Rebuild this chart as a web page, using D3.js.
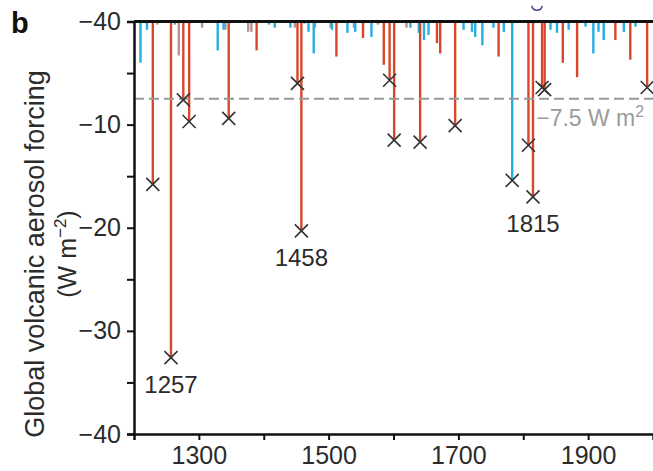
<!DOCTYPE html>
<html>
<head>
<meta charset="utf-8">
<script src="https://cdn.jsdelivr.net/npm/d3@7"></script>
<style>
  body { margin: 0; background: #fff; }
  svg { display: block; font-family: "Liberation Sans", Arial, sans-serif; }
</style>
</head>
<body>
<script>
// eruption forcing (year, W m-2)
var redYears   = [1229, 1257, 1276, 1285, 1346, 1389, 1452, 1458, 1512, 1553, 1585, 1594, 1601, 1641, 1667, 1672, 1695, 1762, 1808, 1815, 1829, 1833, 1861, 1883, 1942, 1965, 1991];
var redValues  = [-15.8, -32.6, -7.6, -9.7, -9.4, -2.8, -6.0, -20.3, -3.4, -1.6, -4.2, -5.7, -11.5, -11.7, -2.1, -3.1, -10.1, -3.4, -12.0, -17.0, -6.4, -6.6, -4.0, -5.4, -1.8, -3.7, -6.4];
var blueYears  = [1210, 1220, 1263, 1329, 1338, 1408, 1417, 1441, 1463, 1469, 1477, 1505, 1529, 1541, 1566, 1626, 1639, 1647, 1654, 1708, 1721, 1726, 1737, 1754, 1770, 1783, 1842, 1852, 1870, 1896, 1908, 1916, 1924, 1955, 1973];
var blueValues = [-4.0, -0.8, -0.3, -2.8, -0.8, -0.3, -0.6, -0.6, -0.2, -1.0, -3.1, -0.8, -1.1, -1.0, -1.5, -0.6, -1.1, -1.8, -1.3, -0.8, -1.0, -1.5, -2.3, -0.6, -1.0, -15.4, -0.8, -1.1, -0.8, -0.5, -3.1, -1.0, -1.8, -1.0, -0.5];
var greyYears  = [1236, 1269, 1305, 1341, 1376, 1381, 1448, 1479, 1503, 1539, 1576, 1620];
var greyValues = [-0.3, -3.3, -0.6, -0.8, -1.0, -1.0, -0.6, -0.6, -0.6, -0.6, -0.3, -0.6];

// eruptions with a cross, and the ones with a year label
var markedYears = [1229, 1257, 1276, 1285, 1346, 1452, 1458, 1594, 1601, 1641, 1695, 1783, 1808, 1815, 1829, 1833, 1991];
var labelYears  = [1257, 1458, 1815];

var yTicks = [0, -5, -10, -15, -20, -25, -30, -35, -40];
var yTickLabels = {"0": "\u221240", "-10": "\u221210", "-20": "\u221220", "-30": "\u221230", "-40": "\u221240"};
var xTicks = [1300, 1400, 1500, 1600, 1700, 1800, 1900];
var threshold = -7.5;

var W = 653, H = 471;
var margin = {top: 21.5, left: 134, right: 0, bottom: 37};
var width = W - margin.left - margin.right,
    height = H - margin.top - margin.bottom;

var svg = d3.select("body").append("svg")
    .attr("width", W)
    .attr("height", H);

var x = d3.scaleLinear().domain([1200, 2000]).range([0, width]);
var y = d3.scaleLinear().domain([0, -40]).range([0, height]);

var g = svg.append("g")
    .attr("transform", "translate(" + margin.left + "," + margin.top + ")");

// bars
function pairs(years, values, type) {
  return years.map(function(yr, i) { return {year: yr, value: values[i], type: type}; });
}
var bars = pairs(greyYears, greyValues, "grey")
  .concat(pairs(blueYears, blueValues, "blue"))
  .concat(pairs(redYears, redValues, "red"));
var colors = {red: "#d8472c", blue: "#27aee2", grey: "#b69292"};

g.selectAll(".bar")
    .data(bars)
  .enter().append("line")
    .attr("class", "bar")
    .attr("x1", function(d) { return x(d.year); })
    .attr("x2", function(d) { return x(d.year); })
    .attr("y1", y(0))
    .attr("y2", function(d) { return y(d.value); })
    .attr("stroke", function(d) { return colors[d.type]; })
    .attr("stroke-width", 2.4);

// -7.5 threshold
g.append("line")
    .attr("x1", 0).attr("x2", width)
    .attr("y1", y(threshold)).attr("y2", y(threshold))
    .attr("stroke", "#999")
    .attr("stroke-width", 2)
    .attr("stroke-dasharray", "10,5");

var thr = g.append("text")
    .attr("x", x(1820))
    .attr("y", y(threshold) + 27)
    .attr("fill", "#9b9b9b")
    .style("font-size", "23px")
    .text("\u22127.5 W m");
thr.append("tspan")
    .attr("dy", -9)
    .style("font-size", "16px")
    .text("2");

// crosses
var marks = bars.filter(function(d) { return markedYears.indexOf(d.year) >= 0; });
g.selectAll(".mark")
    .data(marks)
  .enter().append("path")
    .attr("class", "mark")
    .attr("transform", function(d) { return "translate(" + x(d.year) + "," + y(d.value) + ")"; })
    .attr("d", "M-6.5,-6.5L6.5,6.5M-6.5,6.5L6.5,-6.5")
    .attr("stroke", "#333")
    .attr("stroke-width", 1.6)
    .attr("fill", "none");

g.selectAll(".yearlabel")
    .data(marks.filter(function(d) { return labelYears.indexOf(d.year) >= 0; }))
  .enter().append("text")
    .attr("class", "yearlabel")
    .attr("x", function(d) { return x(d.year); })
    .attr("y", function(d) { return y(d.value) + 35; })
    .attr("text-anchor", "middle")
    .attr("fill", "#2b2b2b")
    .style("font-size", "24px")
    .text(function(d) { return d.year; });

// top zero line
g.append("line")
    .attr("x1", 0).attr("x2", width)
    .attr("y1", 0).attr("y2", 0)
    .attr("stroke", "#111")
    .attr("stroke-width", 3);

// axes
var yAxis = g.append("g")
    .call(d3.axisLeft(y).tickValues(yTicks).tickSize(7).tickPadding(6)
      .tickFormat(function(d) { return yTickLabels[String(d)] || ""; }));

var xAxis = g.append("g")
    .attr("transform", "translate(0," + height + ")")
    .call(d3.axisBottom(x).tickValues(xTicks).tickSize(6).tickPadding(6)
      .tickFormat(function(d) { return d % 200 === 100 ? d : ""; }));

[yAxis, xAxis].forEach(function(ax) {
  ax.select(".domain").attr("stroke", "#111").attr("stroke-width", 2.5);
  ax.selectAll(".tick line").attr("stroke", "#111").attr("stroke-width", 2);
  ax.selectAll(".tick text")
    .attr("fill", "#2b2b2b")
    .style("font-size", "25px")
    .style("font-family", "'Liberation Sans', Arial, sans-serif");
});
xAxis.selectAll(".tick text").attr("dy", "0.71em");

// y title
var ytitle = svg.append("g")
    .attr("transform", "translate(44,254) rotate(-90)");
ytitle.append("text")
    .attr("text-anchor", "middle")
    .attr("fill", "#2b2b2b")
    .style("font-size", "27px")
    .text("Global volcanic aerosol forcing");
var unit = ytitle.append("text")
    .attr("y", 32)
    .attr("text-anchor", "middle")
    .attr("fill", "#2b2b2b")
    .style("font-size", "25px");
unit.append("tspan").text("(W m");
unit.append("tspan").attr("dy", -10).style("font-size", "17px").text("\u22122");
unit.append("tspan").attr("dy", 10).text(")");

// panel letter
svg.append("text")
    .attr("x", 11)
    .attr("y", 33)
    .attr("fill", "#111")
    .style("font-size", "29px")
    .style("font-weight", "bold")
    .text("b");

// bit of panel a showing at the top edge
svg.append("path")
    .attr("transform", "translate(537,5)")
    .attr("d", d3.arc()({innerRadius: 4.5, outerRadius: 6, startAngle: Math.PI * 0.55, endAngle: Math.PI * 1.45}))
    .attr("fill", "#4a3f8c");
</script>
</body>
</html>
